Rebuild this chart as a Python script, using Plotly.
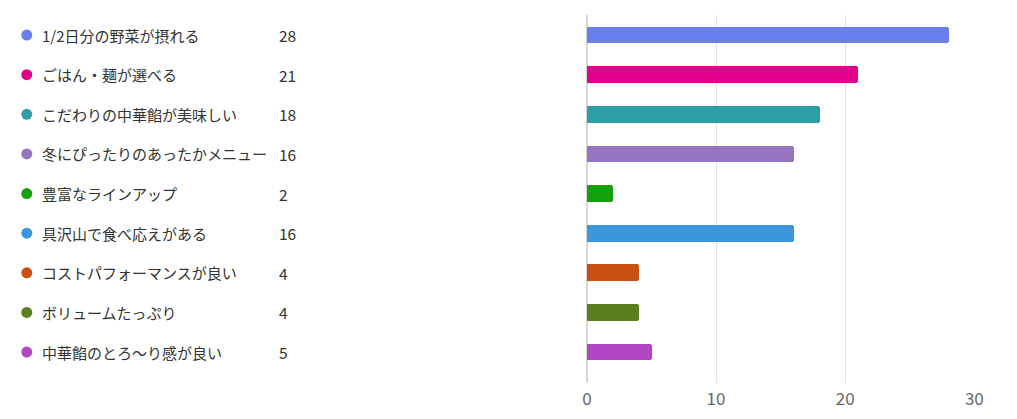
import plotly.graph_objects as go

categories = [
    "1/2日分の野菜が摂れる",
    "ごはん・麺が選べる",
    "こだわりの中華餡が美味しい",
    "冬にぴったりのあったかメニュー",
    "豊富なラインアップ",
    "具沢山で食べ応えがある",
    "コストパフォーマンスが良い",
    "ボリュームたっぷり",
    "中華餡のとろ〜り感が良い",
]
values = [28, 21, 18, 16, 2, 16, 4, 4, 5]
colors = ["#6880EE", "#E2008C", "#2EA0A5", "#9674BF", "#13A10E",
          "#3A96DD", "#CA5010", "#5A7F1E", "#B146C2"]
x_ticks = [0, 10, 20, 30]

# page has 8px default body margin; figure sized to fit the window
W, H = 1001, 403
pos = list(range(len(categories)))
FONT = "Noto Sans CJK JP, Noto Sans, sans-serif"

fig = go.Figure()
fig.add_trace(go.Bar(
    x=values, y=pos, orientation="h",
    marker=dict(color=colors, cornerradius=3, line=dict(width=0)),
    width=0.42, hoverinfo="x", showlegend=False,
))
# legend dots
fig.add_trace(go.Scatter(
    x=[14] * len(pos), y=pos, mode="markers", xaxis="x2", yaxis="y",
    marker=dict(color=colors, size=11), showlegend=False, hoverinfo="skip",
))

annotations = []
for i, (c, v) in enumerate(zip(categories, values)):
    annotations.append(dict(x=27, y=i, xref="x2", yref="y", text=c, showarrow=False,
                            xanchor="left", yanchor="middle",
                            font=dict(family=FONT, size=15, color="#333333")))
    annotations.append(dict(x=268, y=i, xref="x2", yref="y", text=str(v), showarrow=False,
                            xanchor="left", yanchor="middle",
                            font=dict(family=FONT, size=15.5, color="#333333")))

fig.update_layout(
    width=W, height=H,
    margin=dict(l=0, r=0, t=7, b=28),
    plot_bgcolor="white", paper_bgcolor="white",
    bargap=0,
    xaxis=dict(domain=[582 / W, 975 / W], range=[0, 30], tickvals=x_ticks,
               showgrid=True, gridcolor="#E3E3E3", gridwidth=1,
               zeroline=True, zerolinecolor="#D6D6D6", zerolinewidth=2,
               showline=False, ticks="", ticklabelstandoff=4,
               tickfont=dict(family=FONT, size=17, color="#666666")),
    xaxis2=dict(domain=[0, 0.5], range=[0, W * 0.5], visible=False, anchor="y"),
    yaxis=dict(range=[8.78, -0.505], showticklabels=False, showgrid=False,
               zeroline=False, showline=False),
    annotations=annotations,
)

fig.write_html("out.html")
